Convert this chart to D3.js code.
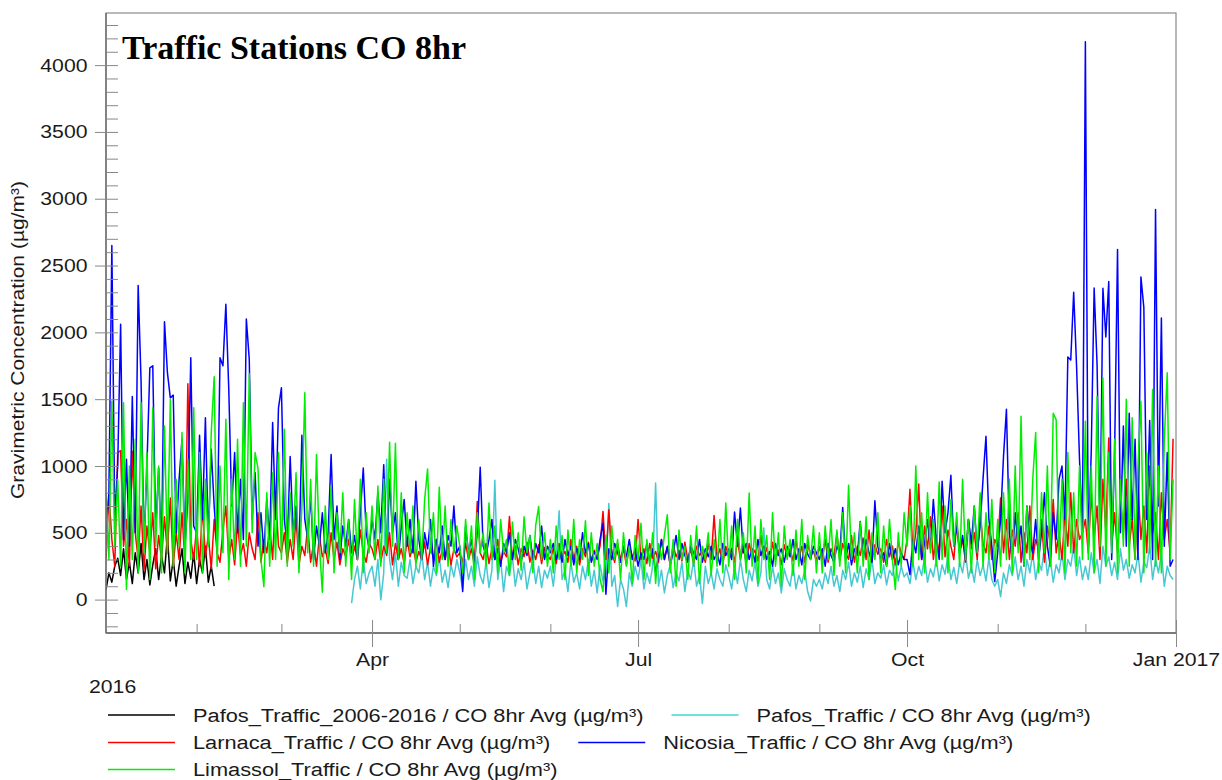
<!DOCTYPE html>
<html>
<head>
<meta charset="utf-8">
<script src="https://cdn.jsdelivr.net/npm/d3@7"></script>
<style>
  html, body { margin: 0; padding: 0; background: #fff; }
  svg { display: block; }
</style>
</head>
<body>
<svg id="chart" width="1222" height="780"></svg>
<script>
// ---------------- DATA (daily values, µg/m³) ----------------
const seriesNames = [
  "Pafos_Traffic_2006-2016 / CO 8hr Avg (µg/m³)",
  "Pafos_Traffic / CO 8hr Avg (µg/m³)",
  "Larnaca_Traffic / CO 8hr Avg (µg/m³)",
  "Nicosia_Traffic / CO 8hr Avg (µg/m³)",
  "Limassol_Traffic / CO 8hr Avg (µg/m³)"
];
const seriesColors = ["#000000", "#46c8d2", "#ff0000", "#0000ff", "#00ee00"];
const seriesStart = ["2016-01-01", "2016-03-25", "2016-01-01", "2016-01-01", "2016-01-01"];

const yTickValues = [0, 500, 1000, 1500, 2000, 2500, 3000, 3500, 4000];
const xTickDates = ["2016-04-01", "2016-07-01", "2016-10-01", "2017-01-01"];
const xTickLabels = ["Apr", "Jul", "Oct", "Jan 2017"];
const xMinorDates = ["2016-02-01", "2016-03-01", "2016-05-01", "2016-06-01", "2016-08-01",
                     "2016-09-01", "2016-11-01", "2016-12-01"];
const yearLabel = "2016";
const title = "Traffic Stations CO 8hr";
const yAxisTitle = "Gravimetric Concentration (µg/m³)";

// Pafos_Traffic_2006-2016 (black), Jan 1 – Feb 7
const pafos2006 = [75, 200, 130, 250, 310, 180, 380, 150, 280, 120, 350, 200, 420, 150, 300, 110, 260, 380, 150, 330,
  200, 480, 140, 300, 100, 250, 380, 120, 280, 160, 350, 120, 300, 200, 400, 130, 250, 100];

// Pafos_Traffic (cyan), Mar 25 – Dec 31
const pafosTraffic = [
  -27, 150, 250, 80, 300, 120, 200,
  250, 100, 300, -2, 200, 1050, 300, 150, 350, 100, 280, 180, 160, 300, 120, 250, 200, 350, 150, 280, 100, 250, 180, 320, 130, 220, 90, 260, 170, 300,
  200, 80, 300, 150, 250, 100, 320, 180, 120, 280, 90, 220, 893, 150, 300, 60, 250, 180, 320, 100, 230, 150, 280, 80, 200, 300, 120, 250, 90, 220, 160,
  250, 100, 300, 665, 150, 220, 60, 280, 130, 200, 80, 250, 150, 300, 100, 220, 50, 260, 140, 200, 720, 100, 180, -52, 150, 80, -52, 200, 100, 250,
  150, 300, 80, 200, 120, 250, 873, 100, 220, 50, 180, 260, 90, 200, 140, 280, 60, 220, 150, 300, 100, 180, -30, 250, 120, 200, 80, 230, 150, 100, 260,
  180, 80, 250, 120, 300, 150, 60, 220, 140, 280, 100, 200, 535, 150, 80, 250, 120, 200, 50, 230, 150, 100, 260, 80, 180, 120, 220, 60, -10, 150, 100,
  150, 80, 200, 120, 250, 100, 180, 60, 220, 150, 280, 100, 200, 130, 250, 90, 230, 150, 300, 120, 200, 160, 260, 110, 220, 180, 300, 140, 250, 170,
  200, 120, 280, 150, 250, 180, 320, 130, 230, 170, 300, 140, 260, 190, 330, 150, 240, 120, 280, 200, 350, 160, 250, 130, 300, 180, 260, 140, 310, 150, 100,
  150, 22, 200, 120, 260, 180, 320, 150, 250, 100, 300, 200, 350, 150, 280, 220, 400, 180, 300, 130, 260, 200, 350, 150, 300, 250, 400, 180, 320, 150,
  250, 150, 350, 200, 300, 120, 400, 250, 320, 180, 280, 150, 380, 220, 300, 160, 260, 200, 350, 130, 280, 240, 400, 150, 300, 200, 350, 100, 250, 180, 150
];

// Larnaca_Traffic (red), Jan 1 – Dec 31
const larnaca = [
  300, 800, 450, 250, 1100, 1115, 400, 600, 250, 1110, 500, 300, 700, 220, 550, 350, 650, 230, 480, 300, 620, 350, 760, 250, 500, 300, 650, 280, 1615, 450, 300,
  550, 250, 700, 320, 480, 230, 600, 350, 280, 520, 700, 300, 450, 260, 580, 330, 420, 250, 500, 380, 300, 650, 280, 450, 350, 550, 300, 800, 400,
  350, 500, 280, 450, 300, 620, 260, 400, 330, 550, 280, 420, 250, 480, 320, 380, 270, 500, 300, 430, 260, 380, 320, 450, 280, 400, 300, 520, 350, 280, 420,
  380, 300, 450, 280, 400, 330, 500, 260, 420, 300, 380, 270, 450, 320, 400, 280, 360, 300, 430, 260, 390, 310, 450, 280, 370, 300, 420, 260, 380, 320,
  350, 280, 420, 300, 380, 260, 735, 350, 300, 420, 270, 380, 300, 450, 280, 360, 320, 622, 300, 400, 260, 380, 320, 430, 280, 370, 300, 410, 270, 390, 330,
  300, 380, 270, 420, 320, 360, 280, 450, 300, 400, 260, 380, 320, 430, 290, 370, 310, 400, 660, 300, 672, 350, 280, 420, 300, 380, 260, 400, 330, 290,
  600, 300, 380, 270, 420, 310, 360, 280, 450, 300, 390, 260, 410, 320, 370, 290, 430, 300, 380, 270, 400, 330, 360, 280, 420, 300, 630, 310, 380, 270, 400,
  320, 380, 280, 450, 300, 400, 270, 420, 330, 370, 290, 480, 310, 390, 280, 430, 300, 370, 260, 410, 320, 380, 290, 450, 300, 400, 280, 420, 330, 360, 290,
  400, 300, 450, 280, 380, 320, 500, 290, 420, 350, 300, 480, 280, 400, 330, 460, 300, 520, 290, 410, 340, 380, 280, 450, 320, 400, 260, 430, 350, 300,
  450, 825, 350, 500, 865, 300, 550, 380, 620, 300, 480, 350, 700, 320, 520, 400, 300, 580, 350, 450, 280, 600, 380, 500, 300, 650, 420, 350, 550, 300, 450,
  400, 760, 350, 600, 300, 520, 400, 650, 280, 500, 350, 700, 300, 450, 380, 600, 280, 550, 420, 750, 350, 500, 300, 650, 400, 800, 350, 600, 450, 500,
  600, 350, 800, 450, 700, 300, 900, 500, 1210, 400, 650, 350, 750, 500, 900, 400, 600, 300, 850, 450, 700, 350, 1000, 500, 650, 300, 800, 450, 600, 350, 1203
];

// Nicosia_Traffic (blue), Jan 1 – Dec 31
const nicosia = [
  500, 800, 2650, 600, 1000, 2060, 450, 1050, 400, 1520, 500, 2350, 1630, 400, 1000, 1735, 1750, 500, 985, 350, 2080, 1700, 1510, 1530, 500, 900, 1200, 400, 750, 1810, 550,
  500, 1230, 600, 1360, 450, 1125, 700, 400, 1810, 1750, 2210, 1570, 700, 1100, 500, 900, 450, 2100, 1800, 600, 950, 400, 650, 350, 750, 450, 1325, 600, 1435,
  1585, 600, 400, 1070, 500, 700, 350, 1230, 600, 450, 780, 300, 550, 400, 650, 350, 500, 1085, 450, 700, 300, 550, 400, 600, 350, 480, 300, 650, 985, 500, 380,
  600, 450, 800, 500, 1010, 350, 900, 500, 650, 300, 550, 750, 400, 600, 350, 885, 450, 300, 500, 380, 600, 250, 450, 350, 550, 300, 480, 400, 700, 350,
  400, 60, 550, 350, 450, 280, 500, 990, 400, 330, 450, 600, 300, 380, 250, 420, 350, 500, 300, 450, 380, 280, 400, 330, 480, 300, 420, 350, 550, 300, 400,
  350, 420, 300, 380, 280, 450, 330, 400, 260, 380, 300, 500, 350, 420, 280, 360, 300, 450, 572, 40, 380, 300, 420, 350, 280, 400, 320, 450, 300, 380,
  250, 350, 300, 420, 280, 380, 200, 330, 450, 300, 400, 260, 350, 480, 300, 420, 330, 280, 400, 350, 300, 450, 280, 380, 320, 400, 300, 350, 260, 420, 330,
  380, 300, 655, 400, 685, 350, 420, 300, 380, 280, 450, 330, 400, 300, 360, 250, 420, 330, 380, 280, 400, 320, 450, 300, 380, 260, 420, 340, 300, 400, 350,
  300, 380, 250, 420, 330, 280, 400, 350, 690, 300, 420, 260, 380, 330, 585, 300, 450, 350, 280, 740, 400, 300, 350, 250, 420, 300, 380, 260, 350, 300,
  300, 187, 450, 350, 550, 300, 420, 600, 380, 750, 450, 300, 885, 500, 650, 930, 400, 550, 350, 480, 300, 600, 420, 700, 350, 550, 905, 1223, 600, 400, 135,
  350, 600, 1073, 1425, 500, 300, 650, 400, 550, 250, 700, 450, 350, 600, 300, 500, 800, 400, 250, 650, 450, 900, 1000, 600, 1815, 1793, 2300, 1740, 1046, 500,
  4175, 400, 1100, 2332, 1760, 500, 2330, 1965, 2380, 300, 1100, 2620, 500, 1300, 400, 1395, 600, 1200, 300, 2415, 2185, 600, 1340, 300, 2920, 700, 2108, 400, 1100, 250, 300
];

// Limassol_Traffic (green), Jan 1 – Dec 31
const limassol = [
  800, 300, 1485, 400, 900, 250, 1473, 75, 1000, 300, 1200, 200, 1473, 350, 1100, 150, 1435, 400, 1000, 200, 1300, 350, 1498, 250, 900, 400, 1250, 200, 1050, 300, 1435,
  300, 1100, 200, 900, 400, 1250, 1668, 250, 1000, 350, 1350, 150, 900, 300, 1200, 250, 1473, 400, 1690, 500, 1100, 980, 300, 97, 800, 250, 950, 300, 1100,
  300, 1275, 250, 800, 400, 950, 200, 700, 1548, 350, 900, 250, 1085, 400, 55, 700, 300, 850, 200, 650, 350, 800, 250, 600, 150, 750, 300, 900, 200, 650, 350,
  700, 300, 850, 250, 900, 350, 1178, 400, 1170, 300, 800, 200, 650, 350, 700, 250, 600, 300, 750, 978, 350, 650, 200, 840, 300, 700, 250, 600, 350, 550,
  400, 200, 600, 300, 550, 150, 650, 350, 500, 250, 723, 300, 550, 200, 600, 350, 450, 180, 580, 300, 500, 220, 620, 350, 480, 200, 560, 697, 300, 500, 250,
  450, 200, 550, 300, 480, 150, 520, 250, 600, 200, 450, 300, 590, 180, 500, 250, 420, 150, 60, 480, 200, 550, 300, 450, 150, 500, 250, 400, 120, 480,
  300, 572, 150, 450, 250, 500, 120, 420, 300, 480, 635, 200, 450, 100, 520, 300, 400, 150, 480, 250, 550, 120, 400, 300, 500, 180, 450, 250, 600, 200, 723,
  250, 550, 150, 600, 300, 500, 200, 798, 250, 550, 120, 600, 300, 480, 150, 650, 250, 500, 100, 550, 300, 450, 180, 520, 250, 600, 150, 480, 300, 550, 200,
  500, 200, 550, 300, 600, 180, 520, 250, 650, 200, 855, 300, 500, 200, 580, 250, 620, 150, 500, 300, 650, 200, 550, 250, 600, 300, 75, 500, 250, 650,
  400, 700, 250, 1000, 300, 650, 200, 800, 350, 600, 250, 880, 300, 700, 200, 750, 400, 650, 250, 900, 300, 600, 200, 700, 350, 800, 250, 650, 300, 750, 200,
  600, 250, 800, 300, 900, 200, 1000, 350, 1373, 250, 700, 300, 900, 1250, 200, 800, 350, 1000, 250, 1395, 1347, 300, 900, 200, 1100, 350, 800, 250, 1000, 300,
  1335, 300, 1000, 200, 1520, 400, 1660, 250, 1100, 350, 1200, 200, 900, 400, 1500, 250, 1360, 300, 1000, 1485, 200, 1100, 350, 1573, 250, 1000, 200, 1200, 1698, 300, 900
];

const seriesValues = [pafos2006, pafosTraffic, larnaca, nicosia, limassol];

// ---------------- CHART ----------------
const svg = d3.select("#chart");
const SANS = "'Liberation Sans', Arial, sans-serif";
const STRETCH = 1.13;
const LEGEND_STRETCH = 1.16;
const plot = { left: 106, right: 1176, top: 13, bottom: 633 };
const parse = d3.utcParse("%Y-%m-%d");

svg.append("rect").attr("width", 1222).attr("height", 780).attr("fill", "#fff");

const x = d3.scaleUtc()
  .domain([parse("2016-01-01"), parse("2017-01-01")])
  .range([plot.left, plot.right]);
const y = d3.scaleLinear().domain([-250, 4390]).range([plot.bottom, plot.top]);

function stretchBy(k) {
  return sel => sel.each(function () {
    const w = this.getComputedTextLength();
    d3.select(this).attr("textLength", w * k).attr("lengthAdjust", "spacingAndGlyphs");
  });
}
const stretch = stretchBy(STRETCH);

// clip
svg.append("clipPath").attr("id", "clip").append("rect")
  .attr("x", plot.left).attr("y", plot.top)
  .attr("width", plot.right - plot.left).attr("height", plot.bottom - plot.top);

// series lines
const lines = svg.append("g").attr("clip-path", "url(#clip)");
seriesValues.forEach((vals, si) => {
  const start = parse(seriesStart[si]);
  const pts = vals.map((v, i) => [d3.utcDay.offset(start, i), v]);
  const line = d3.line().x(d => x(d[0])).y(d => y(d[1]));
  lines.append("path")
    .datum(pts)
    .attr("d", line)
    .attr("fill", "none")
    .attr("stroke", seriesColors[si])
    .attr("stroke-width", 1.5)
    .attr("stroke-linejoin", "round");
});

// frame
svg.append("rect")
  .attr("x", plot.left).attr("y", plot.top)
  .attr("width", plot.right - plot.left).attr("height", plot.bottom - plot.top)
  .attr("fill", "none").attr("stroke", "#8a8a8a").attr("stroke-width", 1.2);
svg.append("line").attr("x1", plot.left).attr("x2", plot.left).attr("y1", plot.top).attr("y2", plot.bottom)
  .attr("stroke", "#666").attr("stroke-width", 1.3);
svg.append("line").attr("x1", plot.left).attr("x2", plot.right).attr("y1", plot.bottom).attr("y2", plot.bottom)
  .attr("stroke", "#666").attr("stroke-width", 1.3);

const tickColor = "#888";
function styleAxis(g) {
  g.select(".domain").remove();
  g.selectAll(".tick line").attr("stroke", tickColor).attr("stroke-width", 1);
  g.selectAll(".tick text").attr("fill", "#1a1a1a").attr("font-family", SANS).attr("font-size", 18.8);
}

// Y axis: major outer ticks + labels, inner minor ticks
const yMinor = d3.range(-200, 4400, 100);
svg.append("g").attr("transform", `translate(${plot.left},0)`)
  .call(d3.axisLeft(y).tickValues(yTickValues).tickSize(11).tickPadding(7.5).tickFormat(d3.format("d")))
  .call(styleAxis)
  .call(g => g.selectAll(".tick text").call(stretch));
svg.append("g").attr("transform", `translate(${plot.left},0)`)
  .call(d3.axisRight(y).tickValues(yMinor).tickSize(12).tickFormat(""))
  .call(styleAxis);

// X axis
const xMajor = xTickDates.map(parse);
svg.append("g").attr("transform", `translate(0,${plot.bottom})`)
  .call(d3.axisBottom(x).tickValues(xMajor).tickSize(14).tickPadding(5.5).tickFormat((d, i) => xTickLabels[i]))
  .call(styleAxis)
  .call(g => g.selectAll(".tick text").call(stretch));
svg.append("g").attr("transform", `translate(0,${plot.bottom})`)
  .call(d3.axisTop(x).tickValues(xMajor).tickSize(13).tickFormat(""))
  .call(styleAxis);
svg.append("g").attr("transform", `translate(0,${plot.bottom})`)
  .call(d3.axisTop(x).tickValues(xMinorDates.map(parse)).tickSize(9).tickFormat(""))
  .call(styleAxis);

// year label
svg.append("text").attr("x", 89).attr("y", 693)
  .attr("font-family", SANS).attr("font-size", 18.8).attr("fill", "#1a1a1a")
  .text(yearLabel).call(stretch);

// y axis title
svg.append("text")
  .attr("transform", "translate(24,340) rotate(-90)")
  .attr("text-anchor", "middle")
  .attr("font-family", SANS).attr("font-size", 18.6).attr("fill", "#1a1a1a")
  .text(yAxisTitle).call(stretch);

// chart title
svg.append("text").attr("x", 122).attr("y", 59)
  .attr("font-family", "'Liberation Serif', 'Times New Roman', serif")
  .attr("font-weight", "bold").attr("font-size", 34).attr("fill", "#000")
  .text(title);

// legend (flow layout)
const legendRows = [[0, 1], [2, 3], [4]];
const legendRowY = [715, 742.5, 769.5];
const lg = svg.append("g");
legendRows.forEach((row, ri) => {
  let cx = 108;
  const cy = legendRowY[ri];
  row.forEach(si => {
    lg.append("line").attr("x1", cx).attr("x2", cx + 67).attr("y1", cy).attr("y2", cy)
      .attr("stroke", si === 1 ? "#40d8d0" : seriesColors[si]).attr("stroke-width", 1.6);
    const t = lg.append("text").attr("x", cx + 85).attr("y", cy).attr("dy", "0.35em")
      .attr("font-family", SANS).attr("font-size", 18.8).attr("fill", "#1a1a1a")
      .text(seriesNames[si]);
    t.call(stretchBy(LEGEND_STRETCH));
    const w = +t.attr("textLength");
    cx = cx + 85 + w + 28;
  });
});
</script>
</body>
</html>
